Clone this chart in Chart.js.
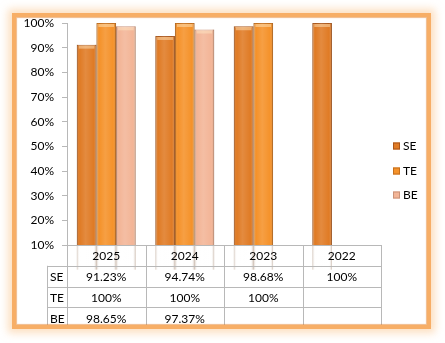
<!DOCTYPE html>
<html>
<head>
<meta charset="utf-8">
<script src="https://cdn.jsdelivr.net/npm/chart.js@4/dist/chart.umd.min.js"></script>
<style>
    html, body { margin: 0; padding: 0; background: #ffffff; }
    #wrap { position: relative; width: 445px; height: 343px; overflow: hidden; }
    #chart { position: absolute; left: 0; top: 0; }
    #frame {
        position: absolute;
        left: 12px;
        top: 13px;
        width: 411px;
        height: 308px;
        border: 4px solid #f7ae66;
        box-shadow: 0 0 8px 4px rgba(250, 196, 140, 0.55), inset 0 0 1px 1px rgba(230, 140, 60, 0.6);
        pointer-events: none;
    }
</style>
</head>
<body>
<div id="wrap">
    <canvas id="chart" width="445" height="343"></canvas>
    <div id="frame"></div>
</div>
<script>
const years = ["2025", "2024", "2023", "2022"];
const seriesNames = ["SE", "TE", "BE"];
const seValues = [91.23, 94.74, 98.68, 100];
const teValues = [100, 100, 100, null];
const beValues = [98.65, 97.37, null, null];
const yTicks = [10, 20, 30, 40, 50, 60, 70, 80, 90, 100];

const seriesColors = ["#e07b25", "#f5922a", "#f3b597"];
const seriesBorders = ["#a9561a", "#c46f1c", "#c99279"];

const FONT = "Lato, 'Open Sans', sans-serif";
const gridGray = "#b8b8b8";

/**
 * Format a table value like the source sheet does
 */
function formatPct(v) {
    if (v === null) return "";
    return Number.isInteger(v) ? v + "%" : v.toFixed(2) + "%";
}

// light bevel shading on top of each bar
const bevelPlugin = {
    id: "bevel",
    afterDatasetsDraw(chart) {
        const { ctx } = chart;
        ctx.save();
        chart.data.datasets.forEach((ds, i) => {
            chart.getDatasetMeta(i).data.forEach((bar, j) => {
                if (ds.data[j] === null) return;
                const left = bar.x - bar.width / 2;
                const right = bar.x + bar.width / 2;
                const g = ctx.createLinearGradient(left, 0, right, 0);
                g.addColorStop(0, "rgba(90,40,0,0.25)");
                g.addColorStop(0.15, "rgba(255,255,255,0)");
                g.addColorStop(0.45, "rgba(255,255,255,0.12)");
                g.addColorStop(0.85, "rgba(255,255,255,0)");
                g.addColorStop(1, "rgba(90,40,0,0.3)");
                ctx.fillStyle = g;
                ctx.fillRect(left, bar.y, bar.width, bar.base - bar.y);
                // top cap
                ctx.fillStyle = "rgba(255,235,200,0.45)";
                ctx.fillRect(left + 2, bar.y + 1, bar.width - 4, 3);
            });
        });
        ctx.restore();
    }
};

// data table under the axis + legend on the right
const tablePlugin = {
    id: "dataTable",
    afterDraw(chart) {
        const { ctx, chartArea, scales } = chart;
        const x = scales.x;
        const rowH = 20.8;
        const top = chartArea.bottom;
        const labelLeft = 47;
        const colW = (chartArea.right - chartArea.left) / years.length;

        ctx.save();
        ctx.strokeStyle = gridGray;
        ctx.lineWidth = 1;

        // horizontal lines
        for (let r = 0; r <= 4; r++) {
            const y = Math.round(top + r * rowH) + 0.5;
            ctx.beginPath();
            ctx.moveTo(r === 0 ? chartArea.left : labelLeft, y);
            ctx.lineTo(chartArea.right, y);
            ctx.stroke();
        }
        // vertical lines
        for (let c = 0; c <= years.length; c++) {
            const xx = Math.round(chartArea.left + c * colW) + 0.5;
            ctx.beginPath();
            ctx.moveTo(xx, top);
            ctx.lineTo(xx, top + 4 * rowH);
            ctx.stroke();
        }
        ctx.beginPath();
        ctx.moveTo(labelLeft + 0.5, top + rowH);
        ctx.lineTo(labelLeft + 0.5, top + 4 * rowH);
        ctx.stroke();

        ctx.fillStyle = "#000000";
        ctx.font = "12px " + FONT;
        ctx.textBaseline = "middle";

        // header row: category labels
        ctx.textAlign = "center";
        years.forEach((yr, j) => {
            ctx.fillText(yr, x.getPixelForValue(j), top + rowH / 2 + 1);
        });

        // row labels and values
        chart.data.datasets.forEach((ds, i) => {
            const cy = top + (i + 1.5) * rowH + 1;
            ctx.textAlign = "left";
            ctx.fillText(ds.label, labelLeft + 3, cy);
            ctx.textAlign = "center";
            ds.data.forEach((v, j) => {
                ctx.fillText(formatPct(v), x.getPixelForValue(j), cy);
            });
        });

        // legend
        const legendX = 393;
        const legendY = [146, 171, 195];
        chart.data.datasets.forEach((ds, i) => {
            ctx.fillStyle = ds.backgroundColor;
            ctx.strokeStyle = ds.borderColor;
            ctx.fillRect(legendX, legendY[i] - 3.5, 7, 7);
            ctx.strokeRect(legendX + 0.5, legendY[i] - 3, 6, 6);
            ctx.fillStyle = "#000000";
            ctx.textAlign = "left";
            ctx.fillText(ds.label, legendX + 10, legendY[i]);
        });
        ctx.restore();
    }
};

const chart = document.getElementById("chart");

const chartInstance = new Chart(chart, {
    type: "bar",
    data: {
        labels: years,
        datasets: [
            { label: seriesNames[0], data: seValues },
            { label: seriesNames[1], data: teValues },
            { label: seriesNames[2], data: beValues },
        ].map((ds, i) => ({
            ...ds,
            backgroundColor: seriesColors[i],
            borderColor: seriesBorders[i],
            borderWidth: 1,
            categoryPercentage: 0.75,
            barPercentage: 1,
        })),
    },
    plugins: [bevelPlugin, tablePlugin],
    options: {
        responsive: false,
        animation: false,
        layout: {
            padding: { top: 23, right: 64, bottom: 77, left: 0 }
        },
        plugins: {
            legend: { display: false },
            tooltip: { enabled: false }
        },
        scales: {
            x: {
                grid: { display: false },
                border: { color: gridGray },
                ticks: { display: false },
                afterFit(scale) {
                    scale.height = 21;
                }
            },
            y: {
                min: 10,
                max: 100,
                afterBuildTicks(scale) {
                    scale.ticks = yTicks.map((v) => ({ value: v }));
                },
                grid: {
                    drawOnChartArea: false,
                    tickLength: 5,
                    color: gridGray
                },
                border: { color: gridGray },
                ticks: {
                    color: "#000000",
                    font: { family: FONT, size: 12 },
                    padding: 8,
                    callback: (v) => v + "%"
                },
                afterFit(scale) {
                    scale.width = 67;
                }
            }
        }
    }
});
</script>
</body>
</html>
